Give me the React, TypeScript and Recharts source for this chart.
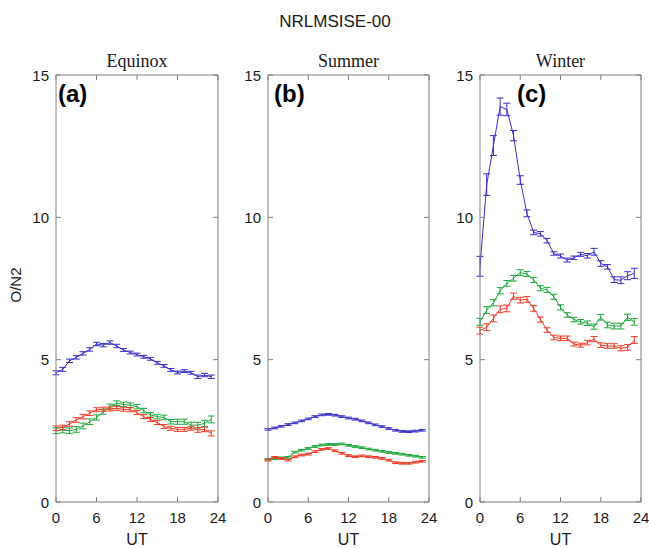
import React from 'react';
import { LineChart, Line, XAxis, YAxis, ErrorBar } from 'recharts';

const HOURS = [0, 1, 2, 3, 4, 5, 6, 7, 8, 9, 10, 11, 12, 13, 14, 15, 16, 17, 18, 19, 20, 21, 22, 23];
const X_TICKS = [0, 6, 12, 18, 24];
const Y_TICKS = [0, 5, 10, 15];

// Equinox
const eqBlue = [4.54, 4.66, 4.96, 5.08, 5.22, 5.36, 5.55, 5.51, 5.6, 5.48, 5.34, 5.25, 5.18, 5.1, 5.03, 4.89, 4.78, 4.64, 4.55, 4.6, 4.54, 4.4, 4.46, 4.4];
const eqBlueErr = [0.07, 0.07, 0.06, 0.06, 0.06, 0.06, 0.06, 0.06, 0.06, 0.06, 0.05, 0.05, 0.05, 0.05, 0.05, 0.05, 0.05, 0.05, 0.05, 0.05, 0.05, 0.06, 0.06, 0.06];
const eqGreen = [2.5, 2.53, 2.5, 2.55, 2.67, 2.82, 2.97, 3.17, 3.35, 3.47, 3.43, 3.4, 3.35, 3.21, 3.06, 3.0, 2.97, 2.82, 2.82, 2.82, 2.7, 2.7, 2.76, 2.9];
const eqGreenErr = [0.1, 0.1, 0.1, 0.1, 0.1, 0.1, 0.09, 0.09, 0.09, 0.08, 0.08, 0.08, 0.08, 0.08, 0.08, 0.08, 0.08, 0.08, 0.09, 0.09, 0.1, 0.1, 0.11, 0.12];
const eqRed = [2.59, 2.62, 2.74, 2.88, 3.0, 3.12, 3.24, 3.26, 3.27, 3.29, 3.26, 3.24, 3.14, 3.0, 2.9, 2.79, 2.65, 2.59, 2.55, 2.55, 2.59, 2.53, 2.55, 2.41];
const eqRedErr = [0.08, 0.08, 0.08, 0.08, 0.08, 0.08, 0.07, 0.07, 0.07, 0.07, 0.07, 0.07, 0.07, 0.07, 0.07, 0.07, 0.07, 0.07, 0.07, 0.07, 0.07, 0.08, 0.08, 0.09];

// Summer
const suBlue = [2.55, 2.6, 2.66, 2.72, 2.78, 2.85, 2.92, 3.0, 3.06, 3.08, 3.05, 3.0, 2.95, 2.91, 2.85, 2.78, 2.71, 2.65, 2.58, 2.52, 2.48, 2.47, 2.49, 2.52];
const suBlueErr = [0.03, 0.03, 0.03, 0.03, 0.03, 0.03, 0.03, 0.03, 0.03, 0.03, 0.03, 0.03, 0.03, 0.03, 0.03, 0.03, 0.03, 0.03, 0.03, 0.03, 0.03, 0.03, 0.03, 0.03];
const suGreen = [1.5, 1.52, 1.55, 1.57, 1.75, 1.82, 1.88, 1.95, 2.0, 2.02, 2.02, 2.04, 1.99, 1.95, 1.91, 1.86, 1.82, 1.78, 1.74, 1.71, 1.68, 1.64, 1.61, 1.57];
const suGreenErr = [0.03, 0.03, 0.03, 0.03, 0.03, 0.03, 0.03, 0.03, 0.03, 0.03, 0.03, 0.03, 0.03, 0.03, 0.03, 0.03, 0.03, 0.03, 0.03, 0.03, 0.03, 0.03, 0.03, 0.03];
const suRed = [1.47, 1.57, 1.53, 1.47, 1.59, 1.65, 1.68, 1.77, 1.85, 1.88, 1.8, 1.71, 1.63, 1.59, 1.62, 1.59, 1.57, 1.53, 1.47, 1.38, 1.36, 1.36, 1.4, 1.43];
const suRedErr = [0.03, 0.03, 0.03, 0.03, 0.03, 0.03, 0.03, 0.03, 0.03, 0.03, 0.03, 0.03, 0.03, 0.03, 0.03, 0.03, 0.03, 0.03, 0.03, 0.03, 0.03, 0.03, 0.03, 0.03];

// Winter
const wiBlue = [8.28, 11.15, 12.52, 13.89, 13.79, 12.87, 11.31, 10.14, 9.47, 9.42, 9.18, 8.73, 8.64, 8.5, 8.58, 8.7, 8.65, 8.79, 8.38, 8.26, 7.81, 7.79, 7.95, 8.03];
const wiBlueErr = [0.35, 0.38, 0.35, 0.3, 0.22, 0.18, 0.15, 0.12, 0.08, 0.08, 0.08, 0.06, 0.07, 0.07, 0.06, 0.07, 0.08, 0.12, 0.1, 0.08, 0.1, 0.12, 0.14, 0.18];
const wiGreen = [6.33, 6.74, 7.0, 7.42, 7.68, 7.86, 8.06, 8.01, 7.8, 7.51, 7.45, 7.21, 6.84, 6.57, 6.41, 6.33, 6.28, 6.16, 6.49, 6.22, 6.18, 6.18, 6.49, 6.33];
const wiGreenErr = [0.12, 0.12, 0.11, 0.11, 0.1, 0.1, 0.1, 0.09, 0.09, 0.09, 0.09, 0.09, 0.09, 0.08, 0.08, 0.08, 0.08, 0.09, 0.1, 0.1, 0.1, 0.1, 0.11, 0.12];
const wiRed = [6.02, 6.14, 6.45, 6.77, 6.8, 7.23, 7.09, 7.12, 6.8, 6.41, 6.04, 5.78, 5.75, 5.75, 5.55, 5.51, 5.6, 5.72, 5.51, 5.48, 5.48, 5.4, 5.43, 5.69];
const wiRedErr = [0.12, 0.12, 0.12, 0.12, 0.12, 0.11, 0.1, 0.1, 0.1, 0.09, 0.08, 0.08, 0.08, 0.08, 0.07, 0.07, 0.08, 0.09, 0.08, 0.08, 0.08, 0.09, 0.1, 0.12];

const BLUE = '#3b2fcc';
const GREEN = '#1fa83c';
const RED = '#f03a26';
const AXIS = '#808080';
const TEXT = '#1a1a1a';
const SANS = '"Liberation Sans", Arial, Helvetica, sans-serif';
const SERIF = '"Liberation Serif", "DejaVu Serif", serif';
const TICK_LEN = 5;

function buildRows(b: number[], be: number[], g: number[], ge: number[], r: number[], re: number[]) {
  return HOURS.map((h, i) => ({
    ut: h,
    blue: b[i],
    blueErr: be[i],
    green: g[i],
    greenErr: ge[i],
    red: r[i],
    redErr: re[i],
  }));
}

const eqRows = buildRows(eqBlue, eqBlueErr, eqGreen, eqGreenErr, eqRed, eqRedErr);
const suRows = buildRows(suBlue, suBlueErr, suGreen, suGreenErr, suRed, suRedErr);
const wiRows = buildRows(wiBlue, wiBlueErr, wiGreen, wiGreenErr, wiRed, wiRedErr);

function BottomTick(props: any) {
  const { x, y, payload } = props;
  return (
    <g>
      <line x1={x} y1={y} x2={x} y2={y - TICK_LEN} stroke={AXIS} strokeWidth={1} />
      <text x={x} y={y + 21} textAnchor="middle" fontFamily={SANS} fontSize={15} fill={TEXT}>
        {payload.value}
      </text>
    </g>
  );
}

function TopTick(props: any) {
  const { x, y } = props;
  return <line x1={x} y1={y} x2={x} y2={y + TICK_LEN} stroke={AXIS} strokeWidth={1} />;
}

function LeftTick(props: any) {
  const { x, y, payload } = props;
  return (
    <g>
      <line x1={x} y1={y} x2={x + TICK_LEN} y2={y} stroke={AXIS} strokeWidth={1} />
      <text x={x - 7} y={y + 5.5} textAnchor="end" fontFamily={SANS} fontSize={15} fill={TEXT}>
        {payload.value}
      </text>
    </g>
  );
}

function RightTick(props: any) {
  const { x, y } = props;
  return <line x1={x} y1={y} x2={x - TICK_LEN} y2={y} stroke={AXIS} strokeWidth={1} />;
}

function Panel({ left, width, marginRight, rows }: { left: number; width: number; marginRight: number; rows: any[] }) {
  const series = [
    { key: 'blue', err: 'blueErr', color: BLUE },
    { key: 'green', err: 'greenErr', color: GREEN },
    { key: 'red', err: 'redErr', color: RED },
  ];
  const axisLine = { stroke: AXIS, strokeWidth: 1 };
  return (
    <div style={{ position: 'absolute', left, top: 0 }}>
      <LineChart width={width} height={548} data={rows} margin={{ top: 74, right: marginRight - 1, bottom: 0, left: 0 }}>
        <XAxis
          xAxisId="b"
          dataKey="ut"
          type="number"
          domain={[0, 24]}
          ticks={X_TICKS}
          interval={0}
          orientation="bottom"
          height={46}
          axisLine={axisLine}
          tickLine={false}
          tickSize={0}
          tickMargin={0}
          tick={<BottomTick />}
          allowDataOverflow
        />
        <XAxis
          xAxisId="t"
          dataKey="ut"
          type="number"
          domain={[0, 24]}
          ticks={X_TICKS}
          interval={0}
          orientation="top"
          height={1}
          axisLine={axisLine}
          tickLine={false}
          tickSize={0}
          tickMargin={0}
          tick={<TopTick />}
          allowDataOverflow
        />
        <YAxis
          yAxisId="l"
          type="number"
          domain={[0, 15]}
          ticks={Y_TICKS}
          interval={0}
          width={56}
          axisLine={axisLine}
          tickLine={false}
          tickSize={0}
          tickMargin={0}
          tick={<LeftTick />}
          allowDataOverflow
        />
        <YAxis
          yAxisId="r"
          orientation="right"
          type="number"
          domain={[0, 15]}
          ticks={Y_TICKS}
          interval={0}
          width={1}
          axisLine={axisLine}
          tickLine={false}
          tickSize={0}
          tickMargin={0}
          tick={<RightTick />}
          allowDataOverflow
        />
        {series.map((s) => (
          <Line
            key={s.key}
            xAxisId="b"
            yAxisId="l"
            type="linear"
            dataKey={s.key}
            stroke={s.color}
            strokeWidth={1}
            dot={false}
            isAnimationActive={false}
          >
            <ErrorBar dataKey={s.err} width={3.5} stroke={s.color} strokeWidth={1} direction="y" isAnimationActive={false} />
          </Line>
        ))}
      </LineChart>
    </div>
  );
}

export default function App() {
  return (
    <div style={{ position: 'absolute', left: 0, top: 0, width: 649, height: 548, background: '#fff', overflow: 'hidden' }}>
      <Panel left={0} width={230} marginRight={12} rows={eqRows} />
      <Panel left={212} width={229} marginRight={12} rows={suRows} />
      <Panel left={424} width={225} marginRight={8} rows={wiRows} />
      <svg width={649} height={548} style={{ position: 'absolute', left: 0, top: 0, pointerEvents: 'none' }}>
        <text x={335} y={27} textAnchor="middle" fontFamily={SANS} fontSize={17} fill={TEXT}>NRLMSISE-00</text>
        <text x={137} y={67} textAnchor="middle" fontFamily={SERIF} fontSize={18} fill={TEXT}>Equinox</text>
        <text x={348.5} y={67} textAnchor="middle" fontFamily={SERIF} fontSize={18} fill={TEXT}>Summer</text>
        <text x={560.5} y={67} textAnchor="middle" fontFamily={SERIF} fontSize={18} fill={TEXT}>Winter</text>
        <text x={58} y={102} fontFamily={SANS} fontSize={24} fontWeight="bold" fill="#000">(a)</text>
        <text x={274} y={102} fontFamily={SANS} fontSize={24} fontWeight="bold" fill="#000">(b)</text>
        <text x={517} y={102} fontFamily={SANS} fontSize={24} fontWeight="bold" fill="#000">(c)</text>
        <text x={137} y={545} textAnchor="middle" fontFamily={SANS} fontSize={16} fill={TEXT}>UT</text>
        <text x={348.5} y={545} textAnchor="middle" fontFamily={SANS} fontSize={16} fill={TEXT}>UT</text>
        <text x={560.5} y={545} textAnchor="middle" fontFamily={SANS} fontSize={16} fill={TEXT}>UT</text>
        <text x={0} y={0} transform="translate(21,285) rotate(-90)" textAnchor="middle" fontFamily={SANS} fontSize={15} fill={TEXT}>O/N2</text>
      </svg>
    </div>
  );
}
